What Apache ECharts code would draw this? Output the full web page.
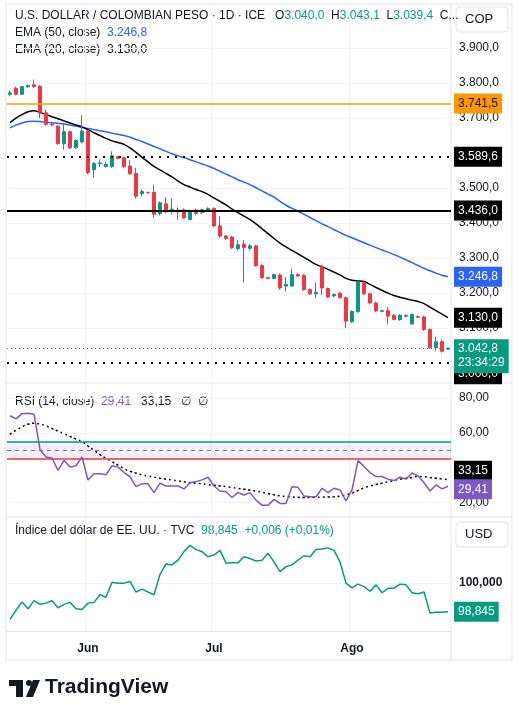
<!DOCTYPE html>
<html><head><meta charset="utf-8">
<script src="https://cdn.jsdelivr.net/npm/echarts@6/dist/echarts.min.js"></script>
<style>html,body{margin:0;padding:0;background:#fff}#c{width:526px;height:705px}</style>
</head><body><div id="c"></div>
<script>
const dates = ["2025-05-14","2025-05-15","2025-05-16","2025-05-19","2025-05-20","2025-05-21","2025-05-22","2025-05-23","2025-05-26","2025-05-27","2025-05-28","2025-05-29","2025-05-30",
"2025-06-02","2025-06-03","2025-06-04","2025-06-05","2025-06-06","2025-06-09","2025-06-10","2025-06-11","2025-06-12","2025-06-13","2025-06-16","2025-06-17","2025-06-18","2025-06-19","2025-06-20","2025-06-23","2025-06-24","2025-06-25","2025-06-26","2025-06-27","2025-06-30",
"2025-07-01","2025-07-02","2025-07-03","2025-07-04","2025-07-07","2025-07-08","2025-07-09","2025-07-10","2025-07-11","2025-07-14","2025-07-15","2025-07-16","2025-07-17","2025-07-18","2025-07-21","2025-07-22","2025-07-23","2025-07-24","2025-07-25","2025-07-28","2025-07-29","2025-07-30","2025-07-31",
"2025-08-01","2025-08-04","2025-08-05","2025-08-06","2025-08-07","2025-08-08","2025-08-11","2025-08-12","2025-08-13","2025-08-14","2025-08-15","2025-08-18","2025-08-19","2025-08-20","2025-08-21","2025-08-22","2025-08-25"];
// [open, close, low, high]
const ohlc = [
[3768,3772,3762,3778],[3785,3768,3765,3790],[3768,3790,3766,3792],[3789,3793,3787,3796],[3795,3790,3786,3810],
[3791,3715,3700,3795],[3715,3682,3678,3725],[3682,3680,3676,3686],[3677,3627,3622,3680],[3627,3661,3610,3682],
[3661,3615,3612,3664],[3615,3636,3612,3640],[3632,3663,3628,3708],[3663,3544,3540,3666],[3553,3570,3530,3574],
[3570,3572,3560,3582],[3562,3568,3558,3575],[3562,3592,3558,3605],[3590,3585,3582,3592],[3587,3561,3558,3590],
[3563,3541,3538,3580],[3542,3477,3470,3558],[3484,3490,3478,3496],[3487,3487,3484,3490],[3488,3425,3415,3510],
[3427,3458,3422,3462],[3455,3432,3428,3475],[3437,3440,3425,3470],[3437,3432,3410,3445],[3438,3415,3412,3442],
[3410,3435,3408,3438],[3437,3428,3422,3442],[3430,3438,3426,3441],[3436,3442,3432,3445],[3442,3392,3388,3445],
[3392,3363,3358,3420],[3363,3356,3352,3366],[3360,3330,3326,3363],[3327,3338,3322,3352],[3340,3330,3230,3352],
[3328,3335,3322,3340],[3335,3278,3275,3338],[3279,3244,3240,3282],[3244,3242,3240,3247],[3242,3253,3240,3256],
[3252,3215,3210,3256],[3220,3225,3205,3245],[3220,3253,3218,3270],[3253,3249,3246,3257],[3251,3210,3207,3254],
[3210,3198,3195,3213],[3198,3202,3185,3230],[3277,3215,3195,3280],[3213,3189,3186,3216],[3192,3196,3188,3199],
[3200,3187,3184,3203],[3187,3120,3100,3190],[3118,3148,3115,3150],[3147,3232,3144,3235],[3230,3198,3195,3234],
[3198,3172,3168,3201],[3172,3149,3146,3175],[3148,3150,3145,3152],[3150,3134,3110,3160],[3137,3125,3122,3140],
[3124,3137,3121,3140],[3134,3136,3131,3139],[3112,3139,3110,3142],[3133,3131,3129,3136],[3132,3096,3092,3135],
[3096,3044,3040,3099],[3044,3061,3036,3075],[3061,3034,3030,3068],[3040,3043,3039,3043]];
const ema20 = [3687,3700,3710,3718,3721,3716,3710,3704,3698,3692,3686,3680,3675,3667,3658,3650,3642,3635,3630,3625,3615,3602,3588,3575,3562,3552,3542,3532,3520,3510,3503,3496,3490,3482,3472,3462,3452,3440,3430,3420,3410,3398,3384,3370,3356,3343,3332,3322,3312,3302,3292,3282,3275,3268,3260,3252,3242,3237,3235,3233,3225,3216,3208,3200,3193,3188,3184,3180,3176,3170,3160,3150,3140,3130];
const ema50 = [3672,3680,3686,3690,3691,3690,3688,3687,3685,3683,3680,3677,3673,3670,3667,3664,3661,3657,3654,3650,3645,3639,3633,3626,3619,3612,3605,3598,3592,3587,3581,3575,3569,3563,3556,3548,3540,3532,3524,3517,3510,3501,3492,3483,3474,3462,3451,3442,3434,3425,3416,3407,3398,3390,3381,3373,3365,3358,3351,3344,3337,3330,3323,3317,3310,3303,3295,3287,3279,3271,3264,3257,3251,3246.8];
const rsi = [69.8,68,71,71.3,70.7,50.5,46.2,45.6,38.5,44.3,40.4,41.2,46.2,33,36.6,36.6,36,41.2,40.4,37.3,35,29.2,30.8,30.8,25.8,31.2,29.6,29.6,29.6,27.9,31.5,32.1,33.1,34.6,29.6,26.7,26.3,23,25.8,24.4,25.8,21.5,18.6,18.6,21.9,19.6,19.6,29.2,28.8,23.8,23.4,23.4,28.3,25.8,28.3,27.3,21.1,27.3,44.1,40.8,37.3,35,35,33.5,32.7,34.6,33.5,37,35.4,31.5,26.7,30.2,27.9,29.41];
const rsiMa = [59.2,61.5,63.5,65,65.5,65,64,62.5,61,59.5,58,56.5,55,52.5,50,47.5,45.5,43.5,41.5,39.5,38,37,36,35.3,34.7,34,33.5,33,32.5,32,31.5,31.2,30.8,30.4,30,29.6,29.2,28.7,28.2,27.7,27.2,26.6,26,25.3,24.6,23.9,23.6,23.3,23.1,23,23,23.1,23.2,23.3,23.4,23.8,24.5,25.5,27,28.5,29.6,30.5,31.2,32,32.8,33.5,34,34.5,35,34.9,34.4,34,33.6,33.15];
const dxy = [98.53,98.9,99.24,98.96,99.29,99.14,99.19,99.29,99.0,99.14,99.22,98.96,98.93,99.19,99.22,99.53,99.43,100.04,100.0,100.0,100.07,99.64,99.76,99.64,99.53,100.36,100.78,100.74,100.93,101.28,101.53,101.36,101.28,101.07,101.14,101.33,100.81,100.83,100.83,101.07,101.0,100.9,100.93,101.21,100.86,100.47,100.67,100.74,100.93,101.11,101.07,101.36,101.38,101.43,101.33,100.86,100.0,99.81,99.96,99.86,99.67,99.93,99.61,99.79,99.79,99.96,99.93,99.61,99.57,99.64,98.79,98.82,98.82,98.845];
const levels = {orange:3741.5, dot1:3589.6, solid:3436.0, dot2:3000.0, last:3042.8};
const priceTicks = [3100,3200,3300,3400,3500,3700,3800,3900];
const rsiTicks = [20,60,80];
const dxyTicks = [100];
const monthNames = {"05":"May","06":"Jun","07":"Jul","08":"Ago"};

const UP='#089981', DN='#f23645', FONT='Liberation Sans, Arial, sans-serif';
function fmt(v,d){let s=v.toFixed(d).split('.');s[0]=s[0].replace(/\B(?=(\d{3})+(?!\d))/g,'.');return s.join(',');}
const monthStart = dates.map((d,i)=> i>0 && d.slice(5,7)!==dates[i-1].slice(5,7));
const L=7, R=75;
const grids=[{left:L,right:R,top:5,height:376},{left:L,right:R,top:384,height:132},{left:L,right:R,top:519,height:112}];
function xAx(gi,showLabel){return {type:'category',gridIndex:gi,data:dates,boundaryGap:true,
 axisLine:{show:showLabel,lineStyle:{color:'#e0e3eb'}},axisTick:{show:false},
 axisLabel:{show:showLabel,margin:12,interval:(i)=>monthStart[i],formatter:v=>monthNames[v.slice(5,7)],color:'#131722',fontSize:12,fontWeight:'bold',fontFamily:FONT},
 splitLine:{show:true,interval:(i)=>monthStart[i],lineStyle:{color:'#f0f3fa'}}};}
function boxLabel(txt,bg,fg,dy){return {show:true,position:'end',distance:3,offset:[0,dy||0],formatter:txt,backgroundColor:bg,color:fg||'#fff',padding:[3,4],fontSize:12,fontFamily:FONT,lineHeight:14,opacity:1};}
const hidden={color:'rgba(0,0,0,0)',width:0,type:'solid'};
const chart=echarts.init(document.getElementById('c'),null,{renderer:'canvas'});
chart.setOption({
 animation:false,
 grid:grids,
 xAxis:[xAx(0,false),xAx(1,false),xAx(2,true)],
 yAxis:[
  {type:'value',gridIndex:0,position:'right',min:2949,max:4023,
   axisLabel:{customValues:priceTicks,formatter:v=>fmt(v,1),color:'#131722',fontSize:12,fontFamily:FONT,margin:8},
   axisTick:{show:false,customValues:priceTicks},axisLine:{show:false},splitLine:{show:true,lineStyle:{color:'#f0f3fa'}}},
  {type:'value',gridIndex:1,position:'right',min:12.4,max:88,
   axisLabel:{customValues:rsiTicks,formatter:v=>fmt(v,2),color:'#131722',fontSize:12,fontFamily:FONT,margin:8},
   axisTick:{show:false,customValues:rsiTicks},axisLine:{show:false},splitLine:{show:true,lineStyle:{color:'#f0f3fa'}}},
  {type:'value',gridIndex:2,position:'right',min:98.06,max:102.6,
   axisLabel:{customValues:dxyTicks,formatter:v=>fmt(v,3),color:'#131722',fontSize:12,fontWeight:'bold',fontFamily:FONT,margin:8},
   axisTick:{show:false,customValues:dxyTicks},axisLine:{show:false},splitLine:{show:true,lineStyle:{color:'#f0f3fa'}}}
 ],
 series:[
  {type:'candlestick',xAxisIndex:0,yAxisIndex:0,data:ohlc,barWidth:4,z:3,
   itemStyle:{color:UP,color0:DN,borderColor:UP,borderColor0:DN,borderWidth:1},
   markLine:{symbol:'none',silent:true,data:[
    {yAxis:levels.orange,lineStyle:{color:'#f0a30a',width:1.5,type:'solid',opacity:1},label:boxLabel(fmt(levels.orange,1),'#ff9800','#131722')},
    {yAxis:levels.dot1,lineStyle:{color:'#000',width:2,type:[2,6]},label:boxLabel(fmt(levels.dot1,1),'#000')},
    {yAxis:levels.solid,lineStyle:{color:'#000',width:2,type:'solid'},label:boxLabel(fmt(levels.solid,1),'#000')},
    {yAxis:levels.dot2,lineStyle:{color:'#000',width:2,type:[2,6]},label:boxLabel(fmt(levels.dot2,1),'#000',null,11)},
    {yAxis:3130,lineStyle:hidden,label:boxLabel(fmt(3130,1),'#000')},
    {yAxis:ema50[ema50.length-1],lineStyle:hidden,label:boxLabel(fmt(ema50[ema50.length-1],1),'#2962ff')},
    {yAxis:levels.last,lineStyle:{color:UP,width:1,type:[1,3]},label:boxLabel(fmt(levels.last,1)+'\n23:34:29',UP,null,8)}
   ]}},
  {type:'line',xAxisIndex:0,yAxisIndex:0,data:ema50,showSymbol:false,smooth:0.3,lineStyle:{color:'#2962ff',width:1.5}},
  {type:'line',xAxisIndex:0,yAxisIndex:0,data:ema20,showSymbol:false,smooth:0.3,lineStyle:{color:'#000',width:1.5}},
  {type:'line',xAxisIndex:1,yAxisIndex:1,data:rsiMa,showSymbol:false,smooth:true,lineStyle:{color:'#000',width:1.5,type:[2,3]},
   markArea:{silent:true,itemStyle:{color:'rgba(126,87,194,0.1)'},data:[[{yAxis:45},{yAxis:55}]]},
   markLine:{symbol:'none',silent:true,data:[
    {yAxis:55,lineStyle:{color:UP,width:1.5,type:'solid'},label:{show:false}},
    {yAxis:50,lineStyle:{color:'#787b86',width:1,type:[4,4]},label:{show:false}},
    {yAxis:45,lineStyle:{color:DN,width:1.5,type:'solid'},label:{show:false}},
    {yAxis:33.15,lineStyle:hidden,label:boxLabel('33,15','#000',null,-9)},
    {yAxis:29.41,lineStyle:hidden,label:boxLabel('29,41','#7e57c2',null,3)}
   ]}},
  {type:'line',xAxisIndex:1,yAxisIndex:1,data:rsi,showSymbol:false,lineStyle:{color:'#7e57c2',width:1.5}},
  {type:'line',xAxisIndex:2,yAxisIndex:2,data:dxy,showSymbol:false,lineStyle:{color:UP,width:1.5},
   markLine:{symbol:'none',silent:true,data:[{yAxis:98.845,lineStyle:hidden,label:boxLabel('98,845',UP)}]}}
 ],
 graphic:[
  {type:'rect',shape:{x:6,y:4,width:506,height:656},style:{fill:'none',stroke:'#e0e3eb',lineWidth:1},silent:true},
  {type:'line',shape:{x1:451,y1:4,x2:451,y2:660},style:{stroke:'#e0e3eb'}},
  {type:'line',shape:{x1:6,y1:383,x2:512,y2:383},style:{stroke:'#e0e3eb'}},
  {type:'line',shape:{x1:6,y1:517,x2:512,y2:517},style:{stroke:'#e0e3eb'}},
  {type:'rect',shape:{x:456,y:7,width:52,height:25,r:4},style:{fill:'#fff',stroke:'#e0e3eb'}},
  {type:'text',left:465,top:13,style:{text:'COP',font:'13px '+FONT,fill:'#131722'}},
  {type:'rect',shape:{x:456,y:522,width:52,height:25,r:4},style:{fill:'#fff',stroke:'#e0e3eb'}},
  {type:'text',left:465,top:528,style:{text:'USD',font:'13px '+FONT,fill:'#131722'}},
  {type:'text',left:15,top:10,style:{rich:{a:{fill:'#131722',font:'12px '+FONT},g:{fill:UP,font:'12px '+FONT}},
    text:'{a|U.S. DOLLAR / COLOMBIAN PESO · 1D · ICE   O}{g|3.040,0}{a|  H}{g|3.043,1}{a|  L}{g|3.039,4}{a|  C...}'}},
  {type:'text',left:15,top:27,style:{rich:{a:{fill:'#131722',font:'12px '+FONT},b:{fill:'#2962ff',font:'12px '+FONT}},text:'{a|EMA (50, close)  }{b|3.246,8}'}},
  {type:'text',left:15,top:44,style:{rich:{a:{fill:'#131722',font:'12px '+FONT}},text:'{a|EMA (20, close)  3.130,0}'}},
  {type:'text',left:15,top:396,style:{rich:{a:{fill:'#131722',font:'12px '+FONT},p:{fill:'#7e57c2',font:'12px '+FONT}},text:'{a|RSI (14, close)  }{p|29,41}{a|   33,15   ∅  ∅}'}},
  {type:'text',left:15,top:525,style:{rich:{a:{fill:'#131722',font:'12px '+FONT},g:{fill:UP,font:'12px '+FONT}},text:'{a|Índice del dólar de EE. UU. · TVC  }{g|98,845  +0,006 (+0,01%)}'}},
  {type:'group',left:9,top:680,children:[
    {type:'rect',shape:{x:0,y:0,width:14,height:6},style:{fill:'#131722'}},
    {type:'rect',shape:{x:7,y:0,width:7,height:17},style:{fill:'#131722'}},
    {type:'circle',shape:{cx:20,cy:3,r:3},style:{fill:'#131722'}},
    {type:'polygon',shape:{points:[[24,0],[31,0],[24,17],[17,17]]},style:{fill:'#131722'}}
  ]},
  {type:'text',left:45,top:677,style:{text:'TradingView',font:'bold 21px '+FONT,fill:'#131722'}}
 ]
});
</script></body></html>
